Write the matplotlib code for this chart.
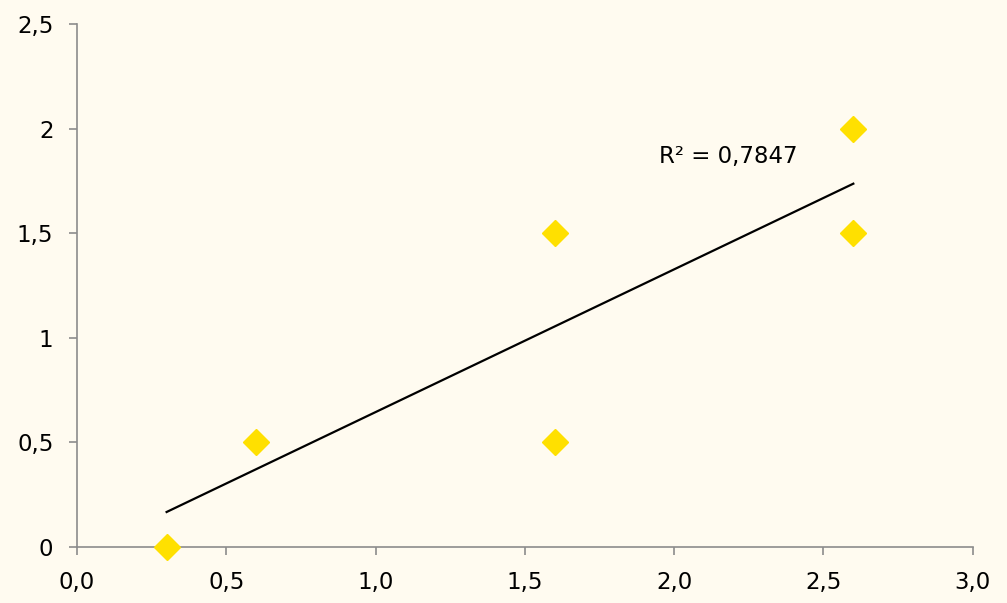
import matplotlib
matplotlib.use("Agg")
import matplotlib.pyplot as plt
from matplotlib.ticker import FuncFormatter

# data
x_vals = [0.3, 0.6, 1.6, 1.6, 2.6, 2.6]
y_vals = [0.0, 0.5, 1.5, 0.5, 2.0, 1.5]
# trendline as drawn (endpoints)
trend_x = [0.3, 2.6]
trend_y = [0.167, 1.737]
r2_text = "R² = 0,7847"

x_ticks = [0.0, 0.5, 1.0, 1.5, 2.0, 2.5, 3.0]
y_ticks = [0, 0.5, 1, 1.5, 2, 2.5]

bg = "#fffbf0"
axis_col = "#8c8c8c"

fig = plt.figure(figsize=(10.07, 6.03), dpi=100, facecolor=bg)
ax = fig.add_axes([0.0765, 0.093, 0.8895, 0.867], facecolor=bg)

ax.plot(trend_x, trend_y, color="black", lw=1.6, zorder=2)
ax.plot(x_vals, y_vals, ls="none", marker="D", ms=13, color="#ffe000",
        mec="#ffe000", zorder=3, clip_on=False)
ax.text(1.95, 1.865, r2_text, fontsize=16.5, va="center", ha="left")

ax.set_xlim(0, 3.0)
ax.set_ylim(0, 2.5)
ax.set_xticks(x_ticks)
ax.set_yticks(y_ticks)
ax.xaxis.set_major_formatter(FuncFormatter(lambda v, p: f"{v:.1f}".replace(".", ",")))
ax.yaxis.set_major_formatter(FuncFormatter(lambda v, p: f"{v:g}".replace(".", ",")))

for s in ["top", "right"]:
    ax.spines[s].set_visible(False)
for s in ["left", "bottom"]:
    ax.spines[s].set_color(axis_col)
    ax.spines[s].set_linewidth(1.2)
ax.tick_params(axis="both", direction="out", length=6, width=1.2,
               color=axis_col, labelsize=16.5)
ax.tick_params(axis="x", pad=11)
ax.tick_params(axis="y", pad=11)

fig.savefig("out.png", dpi=100, facecolor=bg)
